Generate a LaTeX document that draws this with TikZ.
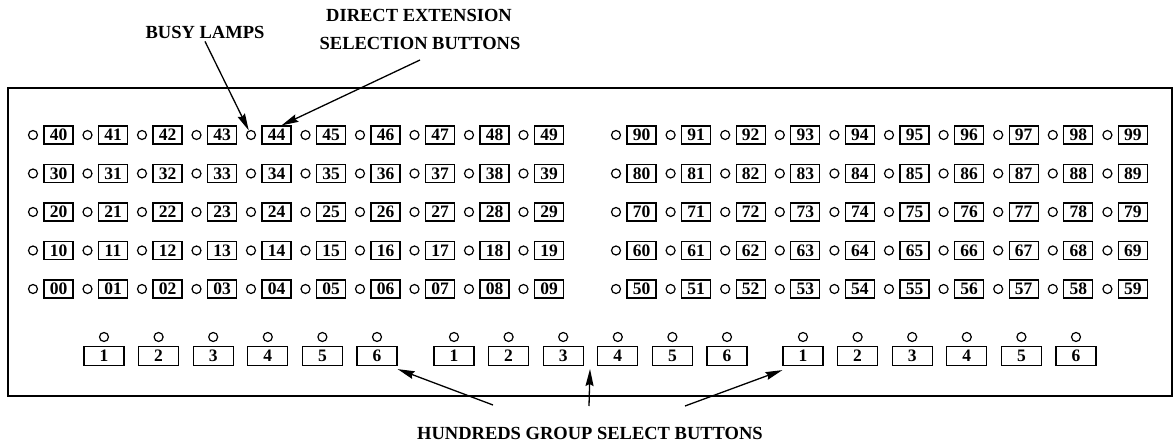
\documentclass[tikz,border=0pt]{standalone}
\usepackage{fontspec}
\setmainfont{Liberation Serif}
\usetikzlibrary{arrows.meta}
\begin{document}
\begin{tikzpicture}[x=1pt,y=-1pt,
  lamp/.style={circle,draw,line width=1.2pt,minimum size=9pt,inner sep=0pt},
  dss/.style={draw,line width=1.2pt,minimum width=29pt,minimum height=18pt,inner sep=0pt,font=\fontsize{17.5}{17.5}\selectfont\bfseries},
  hgb/.style={draw,line width=1.2pt,minimum width=40pt,minimum height=19pt,inner sep=0pt,font=\fontsize{17.5}{17.5}\selectfont\bfseries},
  lbl/.style={font=\fontsize{18.5}{22}\selectfont\bfseries,inner sep=0pt},
  arr/.style={line width=1.3pt,-{Stealth[length=17pt,width=8pt,inset=2pt]}},
  panel/.style={line width=1.6pt}]
\useasboundingbox (0,0) rectangle (1175,446);
% panel frame
\draw[panel] (8,88) rectangle (1172,396);
% direct extension selection buttons with busy lamps
\foreach \r/\y in {0/289,1/250.5,2/212,3/173.5,4/135} {
  \foreach \c in {0,...,9} {
    \pgfmathsetmacro\xl{58.5+54.5*\c}
    \pgfmathsetmacro\xr{641.5+54.6*\c}
    \pgfmathtruncatemacro\rr{\r+5}
    \node[dss] (B\r\c) at (\xl,\y) {\r\c};
    \node[lamp] (L\r\c) at (\xl-25.5,\y) {};
    \node[dss] (B\rr\c) at (\xr,\y) {\rr\c};
    \node[lamp] (L\rr\c) at (\xr-25.5,\y) {};
  }
}
% hundreds group select buttons
\foreach \g/\gx in {1/104,2/454,3/803} {
  \foreach \k in {1,...,6} {
    \pgfmathsetmacro\hx{\gx+54.6*(\k-1)}
    \node[hgb] (H\g\k) at (\hx,356) {\k};
    \node[lamp] (HL\g\k) at (\hx,337) {};
  }
}
% labels
\node[lbl] (busy) at (205,32) {BUSY LAMPS};
\node[lbl] (dir) at (419,15) {DIRECT EXTENSION};
\node[lbl] (sel) at (420,43) {SELECTION BUTTONS};
\node[lbl] (hund) at (590,433) {HUNDREDS GROUP SELECT BUTTONS};
% connectors
\coordinate (selfoot) at (420,60);
\coordinate (hl) at (493,405);
\coordinate (hm) at (589,406);
\coordinate (hmtip) at (590,369);
\coordinate (hr) at (685,406);
\draw[arr] ([yshift=-3pt]busy.south) -- (L44);
\draw[arr] (selfoot) -- ([xshift=5pt]B44.north);
\draw[arr] (hl) -- ([yshift=-3pt]H16.south east);
\draw[arr] (hm) -- (hmtip);
\draw[arr] (hr) -- ([yshift=-4pt]H31.south west);
\end{tikzpicture}
\end{document}
